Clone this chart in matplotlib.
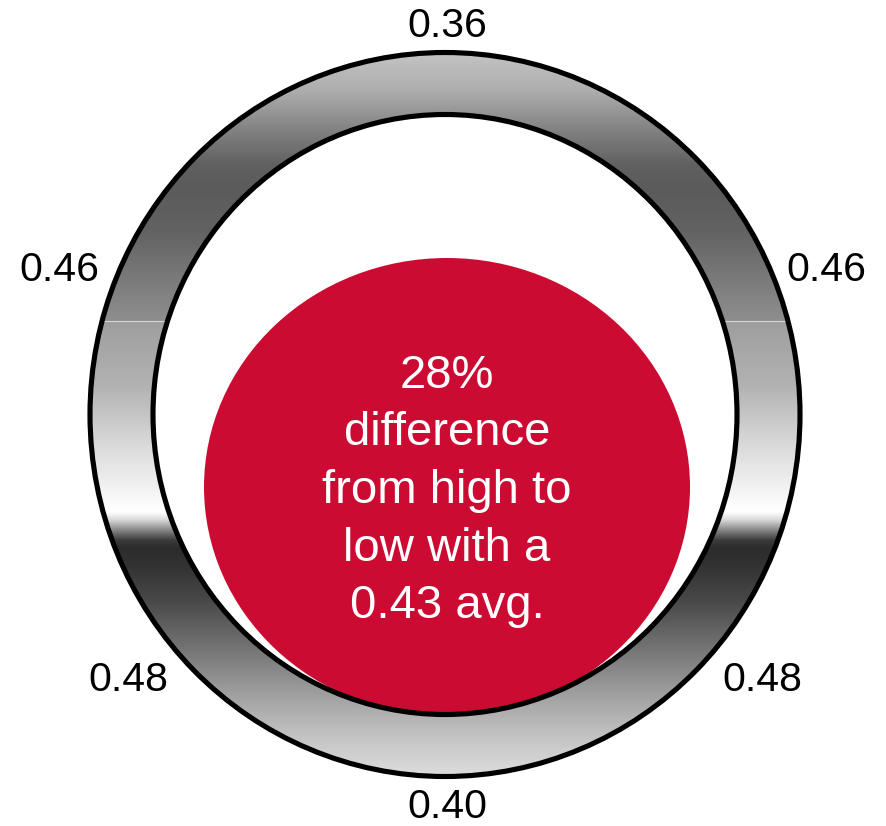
import numpy as np
import matplotlib
matplotlib.use("Agg")
import matplotlib.pyplot as plt
from matplotlib.patches import Ellipse
from matplotlib.path import Path

# ---- data -------------------------------------------------------------
ring_values = [0.36, 0.46, 0.46, 0.48, 0.48, 0.40]   # top, upper L/R, lower L/R, bottom
average_value = 0.43

# ---- layout (pixel space) ---------------------------------------------
W, H = 886, 826
ring_center = (445, 414.5)
outer_r = (355, 362)
inner_r = (292, 300)
disc_center = (447, 487)
disc_size = (486, 458)
split_y = 321
label_xy = [(447, 26), (59, 270), (826, 270), (128, 680), (762, 680), (447, 807)]

# metallic shading of the ring: (y, grey level) stops
upper_stops = [(52, 196), (90, 174), (130, 130), (165, 96), (190, 91),
               (230, 98), (270, 118), (321, 142)]
lower_stops = [(321, 158), (385, 178), (455, 224), (485, 240), (505, 252),
               (512, 255), (520, 215), (530, 135), (540, 60), (548, 44),
               (565, 50), (600, 72), (660, 127), (700, 165), (740, 198),
               (778, 222)]

plt.rcParams['font.family'] = ['Liberation Sans', 'DejaVu Sans']

fig = plt.figure(figsize=(W / 100, H / 100), dpi=100)
ax = fig.add_axes([0, 0, 1, 1])
ax.set_xlim(0, W)
ax.set_ylim(H, 0)
ax.axis('off')

# red centre disc
red = '#CB0B32'
ax.add_patch(Ellipse(disc_center, disc_size[0], disc_size[1],
                     facecolor=red, edgecolor='none', zorder=1))


def ellipse_xy(c, r, reverse=False):
    t = np.linspace(0, 2 * np.pi, 721)
    if reverse:
        t = t[::-1]
    return np.column_stack([c[0] + r[0] * np.cos(t), c[1] + r[1] * np.sin(t)])


outer = ellipse_xy(ring_center, outer_r)
inner = ellipse_xy(ring_center, inner_r, reverse=True)
verts = np.vstack([outer, inner])
codes = np.full(len(verts), Path.LINETO)
codes[0] = Path.MOVETO
codes[len(outer)] = Path.MOVETO
ring_path = Path(verts, codes)

# vertical gradient image clipped to the annulus
ys = np.arange(H) + 0.5
up = np.interp(ys, [s[0] for s in upper_stops], [s[1] for s in upper_stops])
lo = np.interp(ys, [s[0] for s in lower_stops], [s[1] for s in lower_stops])
grey = np.where(ys < split_y, up, lo) / 255.0
img = np.repeat(grey[:, None], 2, axis=1)
img = np.dstack([img, img, img])
im = ax.imshow(img, extent=(0, W, H, 0), aspect='auto',
               interpolation='bilinear', zorder=2)
im.set_clip_path(ring_path, transform=ax.transData)

# faint seam between the upper and lower ring sections
seam, = ax.plot([0, W], [split_y, split_y], color='#d6d6d6', lw=0.8, zorder=3)
seam.set_clip_path(ring_path, transform=ax.transData)

# ring outlines
for r in (outer_r, inner_r):
    ax.add_patch(Ellipse(ring_center, 2 * r[0], 2 * r[1], facecolor='none',
                         edgecolor='black', lw=3.7, zorder=4))

# value labels around the ring
for v, (x, y) in zip(ring_values, label_xy):
    ax.text(x, y, f"{v:.2f}", ha='center', va='center', fontsize=29.5,
            color='black', zorder=5)

# summary text in the disc
spread = (max(ring_values) - min(ring_values)) / average_value * 100
summary = (f"{spread:.0f}%\ndifference\nfrom high to\nlow with a\n"
           f"{average_value:.2f} avg.")
ax.text(447, 491, summary, ha='center', va='center', fontsize=34,
        color='white', linespacing=1.40, zorder=5)

fig.savefig('out.png', dpi=100)
